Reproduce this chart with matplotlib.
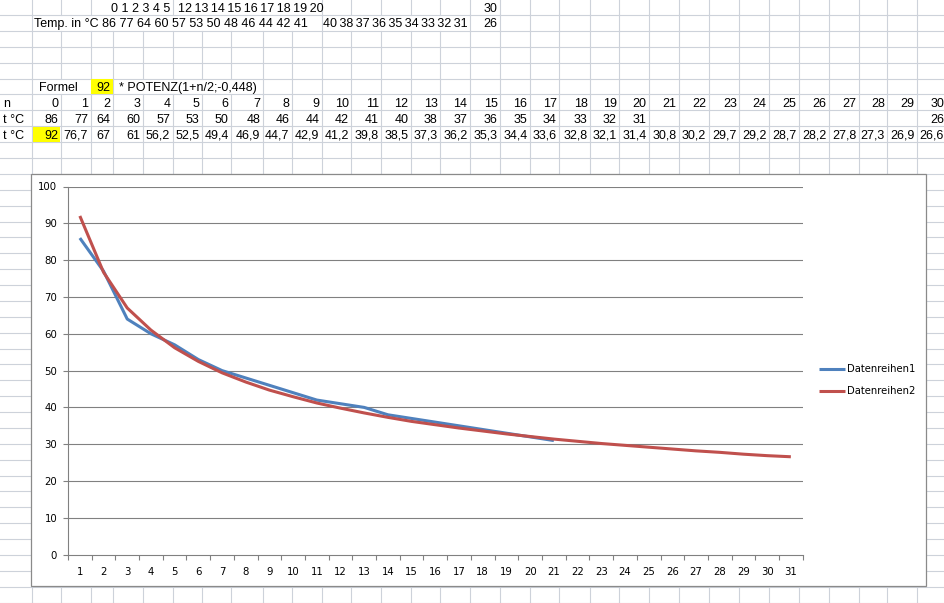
import numpy as np
import matplotlib
matplotlib.use("Agg")
import matplotlib.pyplot as plt
from matplotlib.patches import Rectangle

# data from the sheet
n_vals = list(range(0, 31))
measured = [86, 77, 64, 60, 57, 53, 50, 48, 46, 44, 42, 41, 40, 38, 37, 36, 35, 34, 33, 32, 31,
            None, None, None, None, None, None, None, None, None, 26]
formula = [92, 76.7, 67, 61, 56.2, 52.5, 49.4, 46.9, 44.7, 42.9, 41.2, 39.8, 38.5, 37.3, 36.2,
           35.3, 34.4, 33.6, 32.8, 32.1, 31.4, 30.8, 30.2, 29.7, 29.2, 28.7, 28.2, 27.8, 27.3,
           26.9, 26.6]
minutes_a = [0, 1, 2, 3, 4, 5]
minutes_b = [12, 13, 14, 15, 16, 17, 18, 19, 20]
minute_last = 30
start_temp = 92
formula_text = "* POTENZ(1+n/2;-0,448)"
series_names = ["Datenreihen1", "Datenreihen2"]
categories = [n + 1 for n in n_vals]

# sheet layout (pixels)
W, H = 945, 603
col_edges = [0, 32.3, 60.7, 90.7, 113.3, 142.7, 172.7, 202, 231.3, 262.7, 292, 322, 351.3,
             381.3, 410.7, 440, 470, 500, 530, 559.3, 590, 619.3, 649.3, 679.3, 708.7, 739.3,
             768.7, 798.7, 828.7, 858.7, 887.3, 916.7, 946.5]
row_h = 15.88
row_off = -0.8
grid_col = "#CDD2DA"
sheet_font = dict(family=["Liberation Sans", "DejaVu Sans"], fontsize=9.0, color="black")
THIN = "\u2009"


def row_top(r):
    return row_off + (r - 1) * row_h


def row_mid(r):
    return row_top(r) + 9.3


def fmt(v):
    return ("%g" % v).replace(".", ",")


def cell_text(x, r, s, ha="right"):
    bg.text(x, row_mid(r), s, ha=ha, va="center", zorder=2, **sheet_font)


fig = plt.figure(figsize=(W / 100, H / 100), dpi=100)
bg = fig.add_axes([0, 0, 1, 1])
bg.set_xlim(0, W)
bg.set_ylim(H, 0)
bg.axis("off")

# overflowing text hides vertical grid lines
overflow = {1: [(108, 171), (176, 321)], 2: [(33, 317), (324, 468)], 6: [(38, 77), (118, 252)]}
n_rows = int(H / row_h) + 2
for r in range(1, n_rows + 1):
    t, b = row_top(r), row_top(r + 1)
    for x in col_edges[1:-1]:
        if any(a < x < c for a, c in overflow.get(r, [])):
            continue
        bg.plot([x, x], [t, b], color=grid_col, lw=0.8, zorder=1)
    bg.plot([0, W], [b, b], color=grid_col, lw=0.8, zorder=1)

# yellow cells
for r, c in [(6, 3), (9, 1)]:
    bg.add_patch(Rectangle((col_edges[c] + 0.5, row_top(r) + 0.5),
                           col_edges[c + 1] - col_edges[c] - 1, row_h - 1,
                           facecolor="#FFFF00", edgecolor="none", zorder=1.5))

# rows 1 and 2: notes
cell_text(170, 1, " ".join(str(m) for m in minutes_a))
cell_text(178, 1, THIN.join(str(m) for m in minutes_b), ha="left")
cell_text(col_edges[17] - 2.5, 1, str(minute_last))
cell_text(34, 2, "Temp. in °C " + " ".join(str(v) for v in measured[:12]), ha="left")
cell_text(468, 2, THIN.join(str(v) for v in measured[12:21]))
cell_text(col_edges[17] - 2.5, 2, str(measured[30]))

# row 6: formula
cell_text(39, 6, "Formel", ha="left")
cell_text(col_edges[4] - 2.5, 6, str(start_temp))
cell_text(119, 6, formula_text, ha="left")

# rows 7-9: table
for r, lab in [(7, "n"), (8, "t °C"), (9, "t °C")]:
    cell_text(3, r, lab, ha="left")
for i, n in enumerate(n_vals):
    xr = col_edges[i + 2] - 2.5
    cell_text(xr, 7, str(n))
    if measured[i] is not None:
        cell_text(xr, 8, fmt(measured[i]))
    cell_text(xr, 9, fmt(formula[i]))

# chart area
bg.add_patch(Rectangle((31, 174), 926 - 31, 586 - 174, facecolor="white",
                       edgecolor="#8A8A8A", lw=0.9, zorder=3))

# plot area
pl, pr, pt, pb = 68, 802.7, 186.5, 554.7
ax = fig.add_axes([pl / W, 1 - pb / H, (pr - pl) / W, (pb - pt) / H])
ax.patch.set_alpha(0)
axis_col = "#808080"
y_meas = np.array([np.nan if v is None else v for v in measured], dtype=float)
ax.plot(categories, y_meas, color="#4F81BD", lw=2.2, solid_capstyle="butt", label=series_names[0])
ax.plot(categories, formula, color="#C0504D", lw=2.2, solid_capstyle="butt", label=series_names[1])

ax.set_xlim(0.5, len(categories) + 0.5)
ax.set_ylim(0, 100)
ax.set_yticks(range(0, 101, 10))
for y in range(10, 101, 10):
    ax.axhline(y, color=axis_col, lw=0.8, zorder=0)
ax.set_xticks(np.arange(0.5, len(categories) + 1, 1))
ax.set_xticklabels([])
ax.set_xticks(categories, minor=True)
ax.set_xticklabels([str(c) for c in categories], minor=True)
ax.tick_params(axis="x", which="major", length=3.5, width=0.8, color=axis_col, direction="out")
ax.tick_params(axis="x", which="minor", length=0, pad=8.5, labelsize=7.3)
ax.tick_params(axis="y", length=3.6, width=0.8, color=axis_col, pad=4.2, labelsize=7.3)
for s in ["top", "right"]:
    ax.spines[s].set_visible(False)
for s in ["left", "bottom"]:
    ax.spines[s].set_color(axis_col)
    ax.spines[s].set_linewidth(0.8)

leg = ax.legend(loc="center left", bbox_to_anchor=(819 / W, 1 - 380 / H),
                bbox_transform=fig.transFigure, frameon=False, fontsize=7.2,
                handlelength=2.6, handletextpad=0.2, labelspacing=1.2,
                borderpad=0, borderaxespad=0)

fig.savefig("out.png", dpi=100)
